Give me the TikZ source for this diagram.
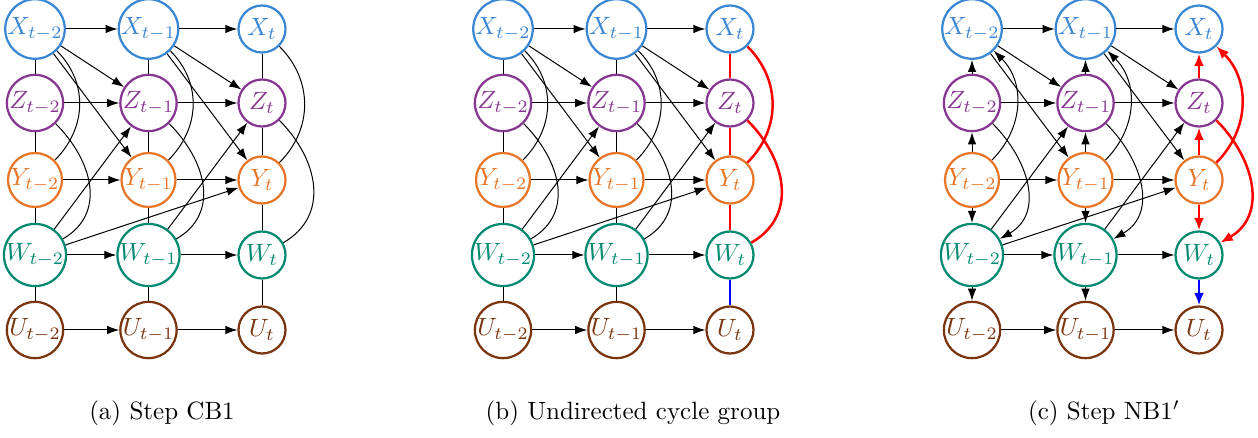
\documentclass[tikz,border=0pt]{standalone}
\usetikzlibrary{arrows.meta}
\definecolor{cX}{RGB}{58,135,212}
\definecolor{cZ}{RGB}{135,55,145}
\definecolor{cY}{RGB}{232,118,40}
\definecolor{cW}{RGB}{0,138,112}
\definecolor{cU}{RGB}{122,52,14}
\tikzset{
  var/.style={circle,draw=#1,text=#1,line width=0.9pt,inner sep=0pt,minimum size=18.8pt,fill=white},
  und/.style={thin,black},
  dir/.style={thin,black,-{Latex[length=4.8pt,width=3.4pt]}},
  rund/.style={line width=1pt,red},
  rdir/.style={line width=1pt,red,-{Latex[length=5pt,width=4pt]}},
  bund/.style={line width=1pt,blue},
  bdir/.style={line width=1pt,blue,-{Latex[length=5pt,width=4pt]}},
  subcap/.style={font=\normalsize},
}
% nodes of one panel: #1 name prefix, #2 x of the first column
\newcommand\panelnodes[2]{%
  \foreach \c/\s in {0/{t-2},1/{t-1},2/t} {
    \foreach \v/\y in {X/29,Z/103,Y/180,W/255,U/330} {
      \node[var=c\v] (#1\v\c) at ({#2+113.5*\c},-\y) {$\v_{\s}$};
    }
  }%
}
% edges between consecutive slices
\newcommand\paneltemporal[1]{%
  \foreach \v in {X,Z,Y,W,U} {
    \draw[dir] (#1\v0) -- (#1\v1);
    \draw[dir] (#1\v1) -- (#1\v2);
  }
  \draw[dir] (#1X0) -- (#1Z1);
  \draw[dir] (#1X0) -- (#1Y1);
  \draw[dir] (#1X1) -- (#1Z2);
  \draw[dir] (#1X1) -- (#1Y2);
  \draw[dir] (#1W0) -- (#1Z1);
  \draw[dir] (#1W1) -- (#1Z2);
  \draw[dir] (#1W0) -- (#1Y2);
}
% edges within one slice: #1 prefix, #2 column, #3 style, #4 style of W-U
\newcommand\intra[4]{%
  \draw[#3] (#1Z#2) -- (#1X#2);
  \draw[#3] (#1Y#2) -- (#1Z#2);
  \draw[#3] (#1Y#2) -- (#1W#2);
  \draw[#4] (#1W#2) -- (#1U#2);
  \draw[#3] (#1Y#2) to[out=45,in=-45,looseness=1.05] (#1X#2);
  \draw[#3] (#1Z#2) to[out=-45,in=30,looseness=1.14] (#1W#2);
}
\begin{document}
\begin{tikzpicture}[x=0.4pt,y=0.4pt]
\useasboundingbox (0,0) rectangle (1258,-438);

% (a) Step CB1
\panelnodes{a}{35}
\paneltemporal{a}
\intra{a}{0}{und}{und}
\intra{a}{1}{und}{und}
\intra{a}{2}{und}{und}
\node[subcap] (capa) at (162,-413) {(a) Step CB1};

% (b) Undirected cycle group
\panelnodes{b}{503}
\paneltemporal{b}
\intra{b}{0}{und}{und}
\intra{b}{1}{und}{und}
\intra{b}{2}{rund}{bund}
\node[subcap] (capb) at (633,-413) {(b) Undirected cycle group};

% (c) Step NB1'
\panelnodes{c}{972}
\paneltemporal{c}
\intra{c}{0}{dir}{dir}
\intra{c}{1}{dir}{dir}
\intra{c}{2}{rdir}{bdir}
\node[subcap] (capc) at (1104,-413) {(c) Step NB1$'$};
\end{tikzpicture}
\end{document}
